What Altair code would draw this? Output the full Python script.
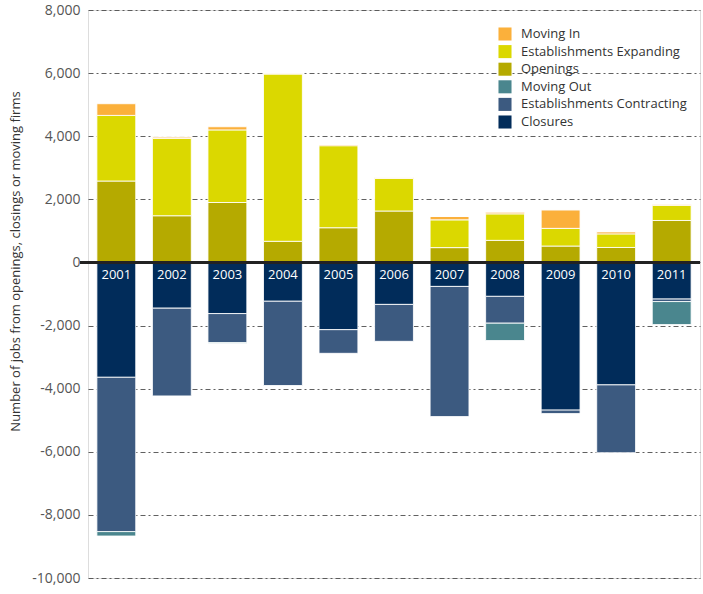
import altair as alt
import pandas as pd

years = ["2001", "2002", "2003", "2004", "2005", "2006", "2007", "2008", "2009", "2010", "2011"]
openings = [2580, 1480, 1900, 670, 1100, 1630, 470, 700, 520, 475, 1330]
expanding = [2080, 2450, 2300, 5300, 2600, 1030, 880, 840, 560, 430, 480]
moving_in = [370, 50, 100, 30, 40, 40, 110, 50, 590, 70, 30]
closures = [-3640, -1450, -1620, -1230, -2130, -1330, -760, -1075, -4680, -3880, -1160]
contracting = [-4890, -2780, -920, -2670, -750, -1170, -4125, -850, -110, -2150, -80]
moving_out = [-140, 0, -30, 0, 0, 0, 0, -550, 0, 0, -730]

series_names = ["Moving In", "Establishments Expanding", "Openings",
                "Moving Out", "Establishments Contracting", "Closures"]
series_colors = ["#fbb03b", "#dbd800", "#b5aa00", "#4a868e", "#3c5a80", "#012c5a"]
stack_order = {"Openings": 0, "Closures": 0,
               "Establishments Expanding": 1, "Establishments Contracting": 1,
               "Moving In": 2, "Moving Out": 2}

rows = []
for name, vals in [("Openings", openings), ("Establishments Expanding", expanding),
                   ("Moving In", moving_in), ("Closures", closures),
                   ("Establishments Contracting", contracting), ("Moving Out", moving_out)]:
    for y, v in zip(years, vals):
        rows.append({"year": y, "series": name, "value": v, "ord": stack_order[name]})
df = pd.DataFrame(rows)
labels_df = pd.DataFrame({"year": years})

FONT = "Open Sans"
W, H = 612, 568

xenc = alt.X("year:N", title=None,
             scale=alt.Scale(paddingInner=0.3, paddingOuter=0.16),
             axis=None)

bars = alt.Chart(df).mark_bar(stroke="white", strokeWidth=1, strokeOpacity=0.85).encode(
    x=xenc,
    y=alt.Y("value:Q", stack="zero",
            scale=alt.Scale(domain=[-10000, 8000], nice=False),
            axis=alt.Axis(values=list(range(-10000, 8001, 2000)),
                          labelExpr="replace(format(datum.value, ',.0f'), '\u2212', '-')",
                          title="Number of jobs from openings, closings or moving firms",
                          titleFont=FONT, titleFontSize=13, titleFontWeight="normal",
                          titleColor="#333333", titleX=-66, titleY=251, titleAngle=-90,
                          labelFont=FONT, labelFontSize=14, labelColor="#555555",
                          labelPadding=8, ticks=False, domain=False,
                          grid=True, gridDash=[5, 3, 2, 3], gridColor="#444444",
                          gridOpacity=0.85, gridWidth=1)),
    color=alt.Color("series:N",
                    scale=alt.Scale(domain=series_names, range=series_colors),
                    legend=alt.Legend(title=None, orient="none", legendX=410, legendY=17,
                                      symbolType="square", symbolSize=170,
                                      symbolStrokeWidth=0, labelFont=FONT,
                                      labelFontSize=13, labelColor="#333333",
                                      labelLimit=300,
                                      rowPadding=3.6, labelOffset=9)),
    order=alt.Order("ord:Q", sort="ascending"),
)

zero = alt.Chart(pd.DataFrame({"v": [0]})).mark_rule(color="#222222", strokeWidth=3).encode(
    y=alt.Y("v:Q"), x=alt.value(-8), x2=alt.value(W))

year_text = alt.Chart(labels_df).mark_text(
    color="white", font=FONT, fontSize=13, baseline="top", dy=7).encode(
    x=alt.X("year:N"), y=alt.datum(0), text="year:N")

chart = alt.layer(bars, zero, year_text).properties(
    width=W, height=H,
    autosize=alt.AutoSizeParams(type="none"),
    padding={"left": 88, "top": 10, "right": 3, "bottom": 16},
).configure_view(stroke=None).configure(background="white")

chart.save("out.html", embed_options={"renderer": "svg", "actions": False})
